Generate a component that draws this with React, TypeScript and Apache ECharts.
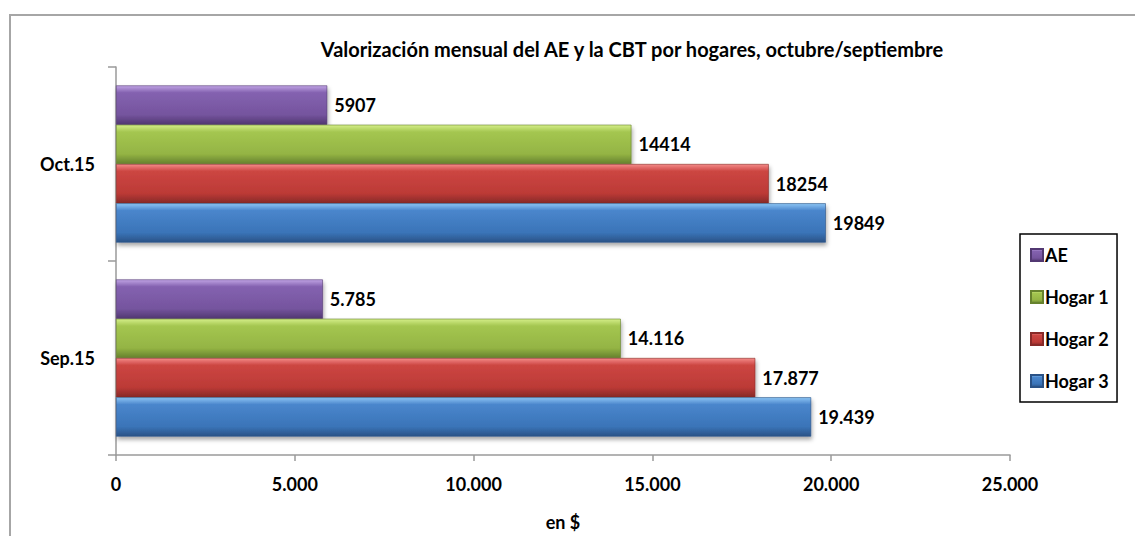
import React, { useEffect, useRef } from "react";
import * as echarts from "echarts";

const categories = ["Sep.15", "Oct.15"];
const seriesNames = ["AE", "Hogar 1", "Hogar 2", "Hogar 3"];
const hogar3 = [19439, 19849];
const hogar2 = [17877, 18254];
const hogar1 = [14116, 14414];
const ae = [5785, 5907];
const legendOrder = ["AE", "Hogar 1", "Hogar 2", "Hogar 3"];
const xTicks = [0, 5000, 10000, 15000, 20000, 25000];

const FONT = "Lato, 'Open Sans', sans-serif";

const palettes: Record<string, [string, string, string, string]> = {
  "Hogar 3": ["#8cc4f4", "#4a86cc", "#3a74b8", "#2a5286"],
  "Hogar 2": ["#f48a88", "#cc4642", "#bc3a36", "#882a28"],
  "Hogar 1": ["#d4ee88", "#a4c650", "#94b444", "#66822e"],
  AE: ["#c0a4e4", "#8462b0", "#75549e", "#523872"],
};

const fmtDot = (v: number) => String(v).replace(/\B(?=(\d{3})+(?!\d))/g, ".");

export default function App() {
  const ref = useRef<HTMLDivElement>(null);
  useEffect(() => {
    if (!ref.current) return;
    const chart = echarts.init(ref.current, undefined, { renderer: "svg" });
    const dataMap: Record<string, number[]> = {
      "Hogar 3": hogar3,
      "Hogar 2": hogar2,
      "Hogar 1": hogar1,
      AE: ae,
    };
    const series = seriesNames.map((name) => {
      const p = palettes[name];
      return {
        name,
        type: "bar",
        barGap: "0%",
        barCategoryGap: "19%",
        data: dataMap[name],
        itemStyle: {
          color: new echarts.graphic.LinearGradient(0, 0, 0, 1, [
            { offset: 0, color: p[0] },
            { offset: 0.18, color: p[1] },
            { offset: 0.75, color: p[2] },
            { offset: 1, color: p[3] },
          ]),
          borderColor: p[3],
          borderWidth: 0.6,
          shadowColor: "rgba(0,0,0,0.35)",
          shadowBlur: 4,
          shadowOffsetY: 3,
          shadowOffsetX: 1,
        },
        label: {
          show: true,
          position: "right",
          distance: 7,
          color: "#000",
          fontWeight: "bold",
          fontSize: 18,
          fontFamily: FONT,
          formatter: (pr: any) =>
            pr.dataIndex === 0 ? fmtDot(pr.value) : String(pr.value),
        },
      };
    });
    chart.setOption({
      animation: false,
      backgroundColor: "#fff",
      title: {
        text: "Valorización mensual del AE y la CBT por hogares, octubre/septiembre",
        left: 627,
        textAlign: "center",
        top: 34,
        textStyle: { fontSize: 20, fontWeight: "bold", color: "#000", fontFamily: FONT },
      },
      legend: {
        data: legendOrder,
        orient: "vertical",
        left: 1020,
        top: 234,
        width: 108,
        height: 167,
        itemGap: 24,
        itemWidth: 12,
        itemHeight: 12,
        padding: [12, 8, 12, 10],
        borderColor: "#000",
        borderWidth: 1.5,
        icon: "rect",
        textStyle: { fontSize: 18, fontWeight: "bold", color: "#000", fontFamily: FONT, padding: [0, 0, 0, -3] },
      },
      grid: { left: 116, right: 125, top: 67, bottom: 73, containLabel: false },
      xAxis: {
        type: "value",
        min: xTicks[0],
        max: xTicks[xTicks.length - 1],
        interval: 5000,
        name: "en $",
        nameLocation: "middle",
        nameGap: 58,
        nameTextStyle: { fontSize: 18, fontWeight: "bold", color: "#000", fontFamily: FONT },
        axisLine: { show: true, lineStyle: { color: "#9a9a9a", width: 1.5 } },
        axisTick: { show: true, length: 6, lineStyle: { color: "#9a9a9a", width: 1.5 } },
        splitLine: { show: false },
        axisLabel: {
          margin: 20,
          fontSize: 18,
          fontWeight: "bold",
          color: "#000",
          fontFamily: FONT,
          formatter: (v: number) => fmtDot(v),
        },
      },
      yAxis: {
        type: "category",
        data: categories,
        axisLine: { show: true, lineStyle: { color: "#9a9a9a", width: 1.5 } },
        axisTick: { show: true, length: 8, lineStyle: { color: "#9a9a9a", width: 1.5 } },
        axisLabel: {
          margin: 21,
          fontSize: 18,
          fontWeight: "bold",
          color: "#000",
          fontFamily: FONT,
        },
      },
      graphic: [
        {
          type: "rect",
          shape: { x: 10, y: 15, width: 1200, height: 600 },
          style: { fill: "none", stroke: "#a6a6a6", lineWidth: 2 },
          silent: true,
        },
      ],
      series,
    });
    return () => chart.dispose();
  }, []);
  return (
    <div
      ref={ref}
      style={{ position: "absolute", left: 0, top: 0, width: 1135, height: 536 }}
    />
  );
}
